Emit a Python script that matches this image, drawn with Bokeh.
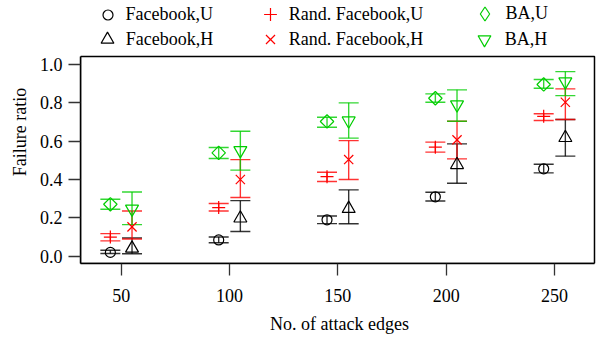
from bokeh.plotting import figure
from bokeh.models import (ColumnDataSource, Whisker, TeeHead, Legend, LegendItem,
                          FixedTicker, BoxAnnotation)
from bokeh.embed import file_html
from bokeh.resources import INLINE

groups = [50, 100, 150, 200, 250]

fb_u = [0.020, 0.085, 0.190, 0.310, 0.456]
fb_u_lo = [0.014, 0.070, 0.170, 0.288, 0.435]
fb_u_hi = [0.031, 0.100, 0.210, 0.334, 0.480]

fb_h = [0.041, 0.198, 0.248, 0.477, 0.618]
fb_h_lo = [0.013, 0.129, 0.169, 0.381, 0.522]
fb_h_hi = [0.095, 0.290, 0.346, 0.586, 0.713]

rf_u = [0.100, 0.254, 0.415, 0.569, 0.730]
rf_u_lo = [0.080, 0.236, 0.390, 0.543, 0.708]
rf_u_hi = [0.118, 0.275, 0.438, 0.595, 0.743]

rf_h = [0.153, 0.400, 0.504, 0.607, 0.803]
rf_h_lo = [0.090, 0.306, 0.400, 0.508, 0.713]
rf_h_hi = [0.236, 0.504, 0.603, 0.704, 0.873]

ba_u = [0.271, 0.539, 0.703, 0.824, 0.896]
ba_u_lo = [0.245, 0.510, 0.673, 0.803, 0.876]
ba_u_hi = [0.297, 0.567, 0.725, 0.847, 0.922]

ba_h = [0.247, 0.552, 0.707, 0.791, 0.911]
ba_h_lo = [0.165, 0.449, 0.616, 0.704, 0.838]
ba_h_hi = [0.335, 0.652, 0.800, 0.868, 0.963]

y_ticks = [0.0, 0.2, 0.4, 0.6, 0.8, 1.0]
y_tick_labels = ["0.0", "0.2", "0.4", "0.6", "0.8", "1.0"]

FONT = "Liberation Serif"
FS = "18px"
BLACK = "#000000"
RED = "#FF0000"
GREEN = "#00CD00"

# axis box limits (data units) and the extra headroom used for the legend
X_MIN, X_MAX = 31.22, 268.45
Y_MIN, Y_MAX = -0.038, 1.0417
X_FRAME_MAX = 270.3
Y_FRAME_MAX = 1.334

FRAME_LEFT = 80
FRAME_BOTTOM = 263

p = figure(width=598, height=337, x_range=(X_MIN, X_FRAME_MAX), y_range=(Y_MIN, Y_FRAME_MAX),
           output_backend="svg", toolbar_location=None,
           min_border_left=80, min_border_right=0, min_border_top=0, min_border_bottom=74)
p.xgrid.visible = False
p.ygrid.visible = False
p.outline_line_color = None
p.background_fill_color = "white"
p.border_fill_color = "white"

box = BoxAnnotation(left=X_MIN, right=X_MAX, bottom=Y_MIN, top=Y_MAX,
                    fill_alpha=0, line_color=BLACK, line_width=1.5, line_alpha=1.0)
p.add_layout(box)

for ax in (p.xaxis[0], p.yaxis[0]):
    ax.major_tick_out = 12
    ax.major_tick_in = 0
    ax.minor_tick_out = 0
    ax.minor_tick_in = 0
    ax.major_tick_line_width = 1.3
    ax.major_tick_line_color = "#333333"
    ax.axis_line_color = BLACK
    ax.axis_line_width = 1.5
    ax.major_label_text_font = FONT
    ax.major_label_text_font_size = FS
    ax.major_label_text_color = BLACK
    ax.axis_label_text_font = FONT
    ax.axis_label_text_font_size = FS
    ax.axis_label_text_font_style = "normal"
    ax.axis_label_text_color = BLACK

p.xaxis.bounds = (X_MIN, X_MAX)
p.yaxis.bounds = (Y_MIN, Y_MAX)
p.xaxis.ticker = FixedTicker(ticks=groups)
p.yaxis.ticker = FixedTicker(ticks=y_ticks)
p.yaxis.major_label_overrides = {t: l for t, l in zip(y_ticks, y_tick_labels)}
p.xaxis.major_label_standoff = 13
p.yaxis.major_label_standoff = 6
p.xaxis.axis_label = "No. of attack edges"
p.yaxis.axis_label = "Failure ratio"
p.xaxis.axis_label_standoff = 9
p.yaxis.axis_label_standoff = 7

series = [
    ("Facebook,U", -5, fb_u, fb_u_lo, fb_u_hi, BLACK, "circle", 10, 0),
    ("Facebook,H", 5, fb_h, fb_h_lo, fb_h_hi, BLACK, "triangle", 13, 0),
    ("Rand. Facebook,U", -5, rf_u, rf_u_lo, rf_u_hi, RED, "cross", 13, 0),
    ("Rand. Facebook,H", 5, rf_h, rf_h_lo, rf_h_hi, RED, "x", 13, 0),
    ("BA,U", -5, ba_u, ba_u_lo, ba_u_hi, GREEN, "square", 9.5, 0.7853981634),
    ("BA,H", 5, ba_h, ba_h_lo, ba_h_hi, GREEN, "inverted_triangle", 13, 0),
]

renderers = {}
sources = {}
for name, off, y, lo, hi, col, marker, size, ang in series:
    src = ColumnDataSource(dict(x=[g + off for g in groups], y=y, lo=lo, hi=hi))
    sources[name] = src
    w = Whisker(source=src, base="x", lower="lo", upper="hi", dimension="height",
                line_color=col, line_width=1.4, line_alpha=0.8,
                upper_head=TeeHead(size=20, line_color=col, line_width=1.4, line_alpha=0.8),
                lower_head=TeeHead(size=20, line_color=col, line_width=1.4, line_alpha=0.8))
    p.add_layout(w)
    r = p.scatter("x", "y", source=src, marker=marker, size=size, angle=ang,
                  fill_color=None, line_color=col, line_width=1.2)
    renderers[name] = (r, size)

# legend keys are drawn unrotated: a zero-size diamond renderer gives the BA,U key
ba_key = p.scatter("x", "y", source=sources["BA,U"], marker="diamond", size=0,
                   fill_color=None, line_color=GREEN, line_width=1.2)
renderers["BA,U"] = (ba_key, 14)

# legend placement (screen px): marker centre and text start
leg_pos = {
    "Facebook,U": (107, 14, 126),
    "Facebook,H": (107, 39, 126),
    "Rand. Facebook,U": (270, 14, 289),
    "Rand. Facebook,H": (270, 39, 289),
    "BA,U": (484, 13, 505),
    "BA,H": (484, 39, 505),
}
for name, (cx, cy, tx) in leg_pos.items():
    r, size = renderers[name]
    G = size / 0.4
    left = cx - G / 2
    bottom = cy + G / 2
    leg = Legend(items=[LegendItem(label=name, renderers=[r])],
                 location=(left - FRAME_LEFT, FRAME_BOTTOM - bottom),
                 orientation="vertical", padding=0, margin=0, spacing=0,
                 border_line_color=None, background_fill_alpha=0,
                 glyph_width=int(round(G)), glyph_height=int(round(G)), label_height=int(round(G)),
                 label_standoff=int(round(tx - cx - G / 2)),
                 label_text_font=FONT, label_text_font_size=FS, label_text_color=BLACK)
    p.add_layout(leg, "center")

open("out.html", "w").write(file_html(p, INLINE))
